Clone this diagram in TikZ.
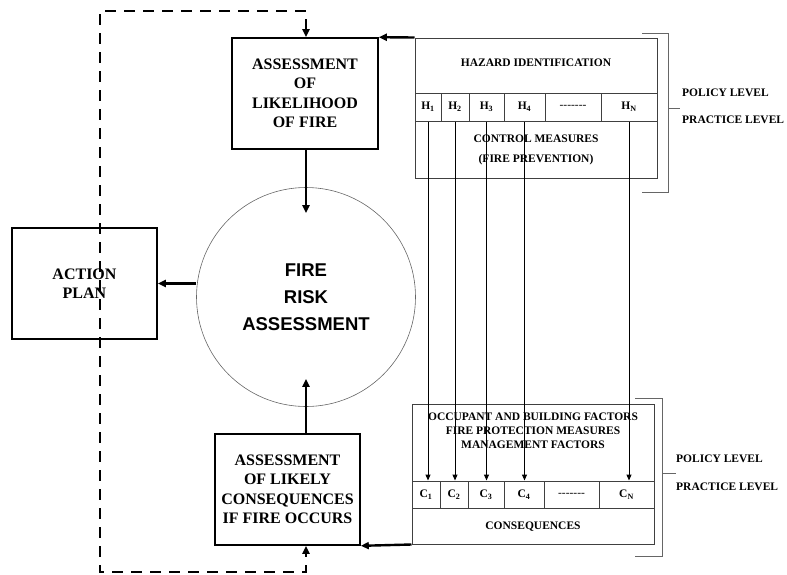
\documentclass[tikz,border=0pt]{standalone}
\usepackage{fontspec}
\setmainfont{Liberation Serif}
\setsansfont{Liberation Sans}
\usetikzlibrary{positioning, arrows.meta, calc}

\newcommand{\gapdots}{{\mdseries{-}{-}{-}{-}{-}{-}{-}}}

\begin{document}
\begin{tikzpicture}[
    x=1pt, y=-1pt,
    box/.style={
        draw,
        line width=1.6pt,
        align=center,
        inner sep=0pt,
        minimum width=146,
        minimum height=111,
        font=\bfseries\fontsize{16}{19.5}\selectfont
    },
    frame/.style={draw=black!75, line width=1pt, inner sep=0pt, minimum width=242, minimum height=140},
    cell/.style={draw=black!75, line width=1pt, inner sep=0pt, font=\bfseries\fontsize{11.5}{13}\selectfont},
    small/.style={align=center, inner sep=0pt, font=\bfseries\fontsize{11.5}{14}\selectfont},
    arrow/.style={-{Triangle[length=8pt,width=7pt]}, line width=2.4pt},
    link/.style={-{Triangle[length=6pt,width=5pt]}, line width=1pt},
    feedback/.style={{Triangle[length=8pt,width=7pt]}-{Triangle[length=8pt,width=7pt]},
        line width=2.4pt, dash pattern=on 11pt off 8pt},
    bracket/.style={draw=black!60, line width=1pt}
]
\useasboundingbox (0,0) rectangle (787,574);

% --- Bloques principales ---
\node[box] (likely) at (305,93.5) {ASSESSMENT\\OF\\LIKELIHOOD\\OF FIRE};
\node[box, minimum width=145] (conseq) at (287.5,489.5) {ASSESSMENT\\OF LIKELY\\CONSEQUENCES\\IF FIRE OCCURS};
\node[box, minimum width=145] (plan) at (84.5,283.5) {ACTION\\PLAN};

\node[circle, draw=black!60, line width=0.6pt, minimum size=219, align=center,
      font=\sffamily\bfseries\fontsize{18.5}{27}\selectfont] (fra) at (306,297) {FIRE\\RISK\\ASSESSMENT};

% --- Tabla de peligros ---
\node[frame] (haz) at (536,108) {};
\node[small] (hazid) at (536,63) {HAZARD IDENTIFICATION};
\node[cell, minimum width=26, minimum height=28] (h1) at (428,107) {H\textsubscript{1}};
\node[cell, minimum width=28, minimum height=28] (h2) at (455,107) {H\textsubscript{2}};
\node[cell, minimum width=35, minimum height=28] (h3) at (486.5,107) {H\textsubscript{3}};
\node[cell, minimum width=41, minimum height=28] (h4) at (524.5,107) {H\textsubscript{4}};
\node[cell, minimum width=56, minimum height=28] (hd) at (573,107) {\gapdots};
\node[cell, minimum width=56, minimum height=28] (hn) at (629,107) {H\textsubscript{N}};
\node[small, font=\bfseries\fontsize{11.5}{20}\selectfont] (ctrl) at (536,150) {CONTROL MEASURES\\(FIRE PREVENTION)};

% --- Tabla de consecuencias ---
\node[frame] (cons) at (533,474) {};
\node[small] (factors) at (533,431) {OCCUPANT AND BUILDING FACTORS\\FIRE PROTECTION MEASURES\\MANAGEMENT FACTORS};
\node[cell, minimum width=28, minimum height=27] (c1) at (426,494.5) {C\textsubscript{1}};
\node[cell, minimum width=28, minimum height=27] (c2) at (454,494.5) {C\textsubscript{2}};
\node[cell, minimum width=36, minimum height=27] (c3) at (486,494.5) {C\textsubscript{3}};
\node[cell, minimum width=40, minimum height=27] (c4) at (524,494.5) {C\textsubscript{4}};
\node[cell, minimum width=55, minimum height=27] (cd) at (571.5,494.5) {\gapdots};
\node[cell, minimum width=55, minimum height=27] (cn) at (626.5,494.5) {C\textsubscript{N}};
\node[small] (conslab) at (533,527) {CONSEQUENCES};

% --- Niveles ---
\draw[bracket] (642,33) -| (668,192) -- (642,192);
\draw[bracket] (668,108) -- (680,108);
\node[small, anchor=west] (pol1) at (682,93) {POLICY LEVEL};
\node[small, anchor=west] (prac1) at (682,120) {PRACTICE LEVEL};

\draw[bracket] (635,398) -| (662,556) -- (635,556);
\draw[bracket] (662,473) -- (676,473);
\node[small, anchor=west] (pol2) at (676,459) {POLICY LEVEL};
\node[small, anchor=west] (prac2) at (676,487) {PRACTICE LEVEL};

% --- Flechas ---
\draw[arrow] (haz.north west) -- (likely.north east);
\draw[arrow] (cons.south west) -- (conseq.south east);
\draw[arrow] (likely.south -| fra.north) -- ($(fra.north)+(0,26)$);
\draw[arrow] (conseq.north -| fra.south) -- ($(fra.south)+(0,-28)$);
\draw[arrow] (plan.east -| fra.west) -- (plan.east);

\draw[link] (h1.south) -- (h1.south |- c1.north);
\draw[link] (h2.south) -- (h2.south |- c2.north);
\draw[link] (h3.south) -- (h3.south |- c3.north);
\draw[link] (h4.south) -- (h4.south |- c4.north);
\draw[link] (hn.south) -- (hn.south |- cn.north);

% --- Retroalimentacion ---
\coordinate (fbtop) at (100,11);
\coordinate (fbbot) at (100,572);
\draw[feedback] (likely.north -| fra.north) |- (fbtop) -- (fbbot) -| (conseq.south -| fra.south);

\end{tikzpicture}
\end{document}
